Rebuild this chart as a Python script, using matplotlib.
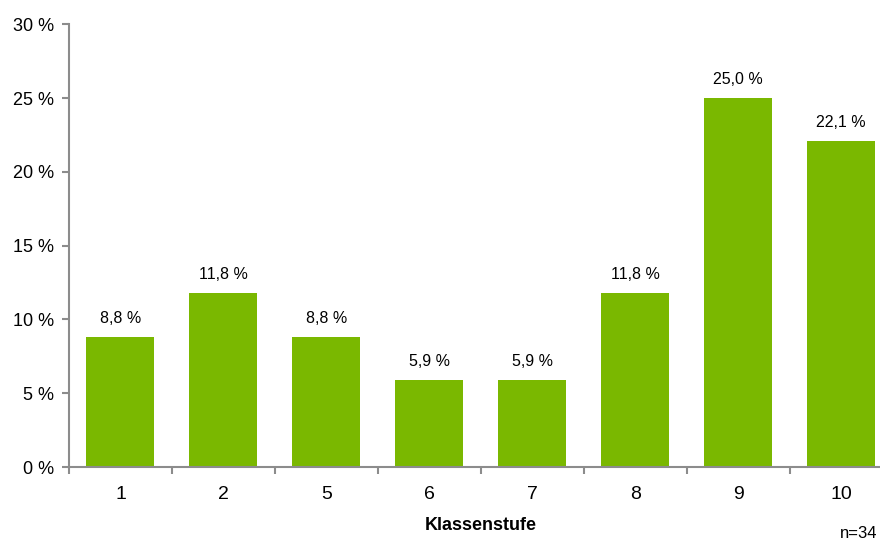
import numpy as np
import matplotlib.pyplot as plt

plt.rcParams['font.family'] = ['Liberation Sans', 'DejaVu Sans']

# Anteil der Schüler je Klassenstufe
categories = ["1", "2", "5", "6", "7", "8", "9", "10"]
values = [8.8, 11.8, 8.8, 5.9, 5.9, 11.8, 25.0, 22.1]
y_ticks = [0, 5, 10, 15, 20, 25, 30]
n_label = "n=34"

bar_color = "#7AB800"
axis_color = "#8C8C8C"

fig = plt.figure(figsize=(8.8, 5.44), dpi=100)
ax = fig.add_axes([0.0784, 0.1415, 0.936, 0.814])

x = np.arange(len(categories))
bars = ax.bar(x, values, width=0.66, color=bar_color, zorder=2)

for xi, v in zip(x, values):
    ax.annotate(f"{v:.1f} %".replace(".", ","), (xi, v), xytext=(0, 8),
                textcoords="offset points", ha="center", va="bottom", fontsize=11.5)

ax.set_xlim(-0.5, len(categories) - 0.5)
ax.set_ylim(0, 30)
ax.set_yticks(y_ticks)
ax.set_yticklabels([f"{t} %" for t in y_ticks], fontsize=13)

# category labels centred, tick marks on the boundaries
ax.set_xticks(np.arange(-0.5, len(categories), 1.0))
ax.set_xticklabels([])
ax.set_xticks(x, minor=True)
ax.set_xticklabels(categories, minor=True, fontsize=14)
ax.tick_params(axis="x", which="minor", length=0, pad=14)
ax.tick_params(axis="x", which="major", length=5, color=axis_color, width=1.5)
ax.tick_params(axis="y", length=5, color=axis_color, width=1.5, pad=6)

for side in ["top", "right"]:
    ax.spines[side].set_visible(False)
for side in ["left", "bottom"]:
    ax.spines[side].set_color(axis_color)
    ax.spines[side].set_linewidth(1.5)

ax.set_xlabel("Klassenstufe", fontsize=13, fontweight="bold", labelpad=10)
fig.text(0.997, 0.006, n_label, fontsize=12, ha="right", va="bottom")

fig.savefig("out.png", dpi=100)
